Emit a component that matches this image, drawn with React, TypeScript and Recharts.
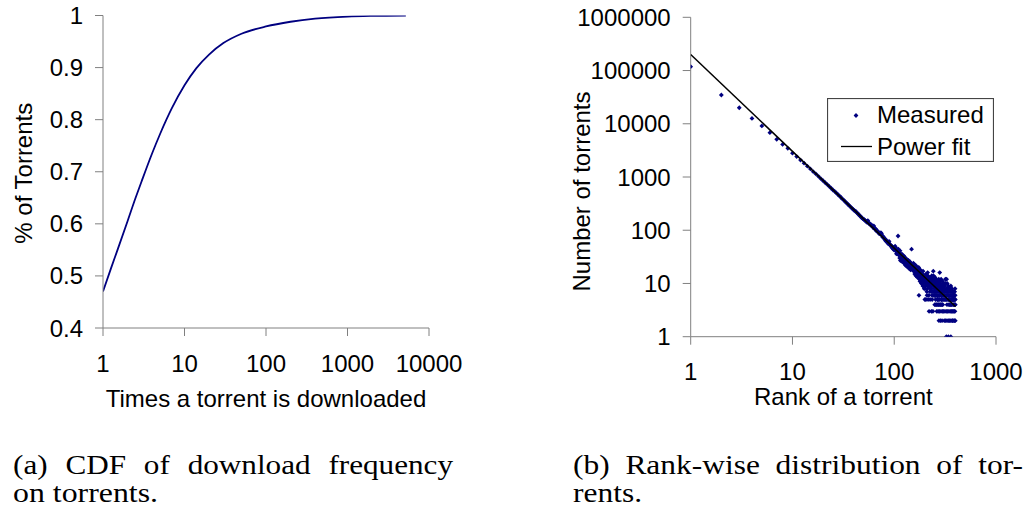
import React from "react";
import {
  ComposedChart,
  ScatterChart,
  Line,
  Scatter,
  XAxis,
  YAxis,
  Label,
  Legend,
} from "recharts";

const FONT = '"Liberation Sans", Arial, Helvetica, sans-serif';
const SERIF = '"Liberation Serif", "Times New Roman", serif';
const NAVY = "#000080";
const AXIS = "#808080";

// (a) CDF of download frequency
const cdfTimes = [1, 1.25, 1.5, 2, 2.5, 3, 4, 5, 7, 10, 14, 20, 30, 50, 100, 200, 400, 1000, 2000, 5200];
const cdfShare = [0.47, 0.514, 0.549, 0.605, 0.649, 0.683, 0.735, 0.772, 0.822, 0.866, 0.899, 0.925, 0.947, 0.965, 0.979, 0.988, 0.994, 0.998, 0.9993, 1.0];
const cdfXTicks = [1, 10, 100, 1000, 10000];
const cdfYTicks = [0.4, 0.5, 0.6, 0.7, 0.8, 0.9, 1];

// (b) rank-wise distribution
const measuredRank = [
  1, 2, 3, 4, 5, 6, 7, 8, 9, 10, 11, 12, 13, 14, 15, 16, 17, 18, 19, 20,
  21, 22, 23, 24, 25, 26, 27, 28, 29, 30, 31, 32, 33, 34, 35, 36, 37, 38, 39, 40,
  41, 42, 43, 44, 45, 46, 47, 48, 49, 50,
  52, 54, 55, 56, 58, 60, 61, 62, 63, 64, 66, 67, 68, 70, 71, 72, 73, 74, 75, 76,
  77, 78, 80, 81, 82, 83, 84, 86, 87, 88, 89, 90, 91, 92, 94, 95, 96, 97, 98, 99, 100,
  102, 103, 104, 105, 106, 107, 108, 109, 110, 111, 112, 113, 114, 115, 116, 117, 118, 119, 120,
  121, 122, 123, 124, 125, 126, 127, 128, 129, 130, 131, 132, 133, 134, 135, 136, 137, 138, 139, 140,
  141, 142, 143, 144, 145, 146, 147, 148, 149, 150,
  152, 154, 155, 156, 158, 159, 160, 162, 163, 164, 166, 168, 169, 170, 172, 174, 175, 176, 178, 179,
  180, 182, 184, 185, 186, 188, 190, 191, 192, 194, 196, 197, 198, 200, 200,
  202, 204, 205, 206, 208, 210, 210, 212, 214, 215, 216, 218, 220, 220, 222, 224, 225, 226, 228, 230,
  232, 232, 234, 236, 236, 238, 240, 240, 242, 244, 245, 246, 248, 250,
  252, 254, 255, 256, 258, 260, 260, 262, 262, 264, 265, 266, 268, 268, 270, 270, 272, 272, 274, 275,
  276, 278, 278, 280, 282, 282, 284, 285, 286, 288, 288, 290, 290, 292, 292, 294, 295, 296, 298, 298, 300,
  302, 305, 308, 310, 312, 315, 318, 320, 322, 325, 327, 328, 330, 332, 335, 338, 340, 342, 345, 348,
  350, 352, 355, 358, 360, 362, 365, 368, 370, 372, 375, 378, 380, 382, 385, 388, 390, 392, 395, 397,
  305, 310, 315, 320, 325, 325, 330, 335, 340, 340, 345, 350, 355, 360, 360, 365, 370, 372, 375, 380,
  385, 388, 392, 395, 398, 398, 385, 375, 362, 348, 398,
  51, 53, 57, 59, 65, 69, 79, 85, 93,
  153, 157, 161, 165, 167, 171, 173, 177, 181, 183, 187, 189, 193, 195, 199,
  201, 203, 207, 209, 211, 213, 217, 219, 221, 223, 227, 229, 231, 233, 235, 237, 239, 241, 243, 247, 249,
  251, 253, 257, 259, 261, 263, 267, 269, 271, 273, 277, 279, 281, 283, 287, 289, 291, 293, 297, 299,
  303, 307, 311, 313, 317, 319, 323, 326, 331, 333, 337, 339, 343, 347, 351, 353, 357, 361, 363, 367,
  371, 374, 377, 381, 384, 387, 391, 394, 396,
  250, 256, 266, 276, 286, 296, 248, 258, 280, 300,
];
const measuredCount = [
  118000, 34700, 20000, 12600, 9100, 6800, 5100, 4100, 3450, 2800, 2420, 2080, 1820, 1600, 1420, 1260, 1140, 1030, 930, 850,
  780, 720, 665, 615, 570, 535, 500, 468, 440, 412, 388, 365, 345, 326, 308, 292, 278, 264, 252, 240,
  232, 225, 212, 204, 196, 186, 179, 172, 165, 160,
  150, 141, 152, 134, 128, 126, 118, 112, 120, 106, 104, 96, 98, 92, 86, 88, 84, 90, 86, 80,
  74, 76, 70, 66, 68, 62, 64, 60, 56, 58, 62, 55, 52, 53, 50, 47, 49, 45, 47, 43, 46,
  50, 41, 42, 36, 45, 38, 40, 78, 44, 34, 38, 30, 41, 27, 36, 32, 34, 26, 35,
  29, 30, 25, 33, 24, 28, 31, 26, 22, 27, 25, 29, 21, 25, 23, 24, 20, 27, 22, 23,
  19, 26, 21, 21, 18, 24, 20, 44, 19, 22,
  20, 24, 17, 18, 21, 15, 17, 22, 14, 19, 15, 18, 13, 16, 14, 20, 6, 13, 17, 11,
  15, 12, 16, 10, 14, 11, 13, 9, 17, 12, 10, 8, 14, 11, 5,
  13, 9, 5, 15, 10, 12, 6, 8, 14, 5, 11, 9, 13, 3, 10, 7, 5, 12, 9, 11,
  8, 3, 14, 10, 5, 7, 12, 3, 17, 9, 6, 11, 8, 10,
  13, 7, 5, 9, 12, 8, 4, 10, 3, 6, 5, 11, 8, 5, 9, 3, 7, 4, 12, 2,
  6, 9, 3, 16, 8, 4, 7, 2, 10, 6, 3, 8, 5, 5, 4, 9, 2, 7, 11, 3, 6,
  8, 5, 10, 7, 6, 9, 12, 5, 7, 8, 12, 6, 4, 10, 7, 5, 9, 6, 4, 8,
  6, 5, 7, 4, 9, 5, 6, 4, 8, 5, 6, 4, 7, 5, 6, 4, 5, 7, 4, 6,
  3, 2, 3, 2, 1, 3, 2, 3, 1, 2, 3, 2, 3, 1, 2, 3, 2, 3, 2, 3,
  2, 3, 2, 3, 2, 4, 4, 5, 4, 4, 5,
  158, 146, 136, 124, 108, 94, 72, 61, 51,
  19, 23, 16, 21, 14, 19, 15, 12, 18, 14, 10, 15, 9, 14, 12,
  8, 11, 13, 7, 10, 16, 12, 6, 9, 11, 8, 13, 7, 10, 6, 12, 9, 7, 14, 6, 9,
  7, 10, 6, 11, 7, 9, 6, 10, 8, 5, 7, 11, 6, 9, 7, 12, 6, 8, 5, 9,
  7, 6, 8, 5, 7, 10, 6, 5, 7, 8, 6, 5, 7, 5, 8, 6, 5, 7, 6, 5,
  6, 7, 5, 6, 5, 7, 6, 5, 8,
  4, 4, 4, 4, 4, 4, 6, 6, 5, 4,
];
const fitRank = [1, 400];
const fitCount = [200000, 3.7];
const rankXTicks = [1, 10, 100, 1000];
const rankYTicks = [1, 10, 100, 1000, 10000, 100000, 1000000];

const cdfData = cdfTimes.map((x, i) => ({ x, y: cdfShare[i] }));
const measuredData = measuredRank.map((x, i) => ({ x, y: measuredCount[i] }));
const fitData = fitRank.map((x, i) => ({ x, y: fitCount[i] }));

const tickStyle = { fill: "#000", fontSize: 24, fontFamily: FONT };

// small Excel-style diamond marker
const Diamond = (props: any) => {
  const { cx, cy } = props;
  if (cx == null || cy == null) return <g />;
  const r = 2.4;
  return <path d={`M${cx},${cy - r}L${cx + r},${cy}L${cx},${cy + r}L${cx - r},${cy}Z`} fill={NAVY} />;
};

const bottomTitle = (text: string, offset: number) => (props: any) => {
  const vb = props.viewBox || {};
  return (
    <text x={vb.x + vb.width / 2} y={vb.y + vb.height - offset} textAnchor="middle" fill="#000" fontSize={24} fontFamily={FONT}>
      {text}
    </text>
  );
};

const sideTitle = (text: string, dx: number, dy: number) => (props: any) => {
  const vb = props.viewBox || {};
  const tx = vb.x + dx;
  const ty = vb.y + vb.height / 2 + dy;
  return (
    <text transform={`translate(${tx},${ty}) rotate(-90)`} textAnchor="middle" fill="#000" fontSize={24} fontFamily={FONT}>
      {text}
    </text>
  );
};

const RankLegend = () => (
  <svg width={167} height={64} style={{ display: "block" }}>
    <rect x={0.5} y={0.5} width={166} height={63} fill="#fff" stroke="#444" strokeWidth={1.2} />
    <Diamond cx={29} cy={17.5} />
    <text x={50} y={25} fill="#000" fontSize={24} fontFamily={FONT}>Measured</text>
    <line x1={14} x2={45} y1={48.5} y2={48.5} stroke="#000" strokeWidth={1.3} />
    <text x={50} y={56.5} fill="#000" fontSize={24} fontFamily={FONT}>Power fit</text>
  </svg>
);

export default function App() {
  return (
    <div style={{ position: "absolute", left: 0, top: 0, width: 1026, height: 513, background: "#fff" }}>
      <div style={{ position: "absolute", left: 0, top: 0 }}>
        <ComposedChart width={480} height={420} data={cdfData} margin={{ top: 15.5, right: 51, bottom: 12, left: 13 }}>
          <XAxis
            dataKey="x"
            type="number"
            scale="log"
            domain={[1, 10000]}
            ticks={cdfXTicks}
            allowDataOverflow
            height={80}
            tickSize={8}
            tickMargin={19}
            stroke={AXIS}
            tick={tickStyle}
            tickFormatter={(v: number) => String(v)}
          >
            <Label content={bottomTitle("Times a torrent is downloaded", 1)} />
          </XAxis>
          <YAxis
            type="number"
            domain={[0.4, 1]}
            ticks={cdfYTicks}
            allowDataOverflow
            width={90}
            tickSize={8}
            tickMargin={12}
            stroke={AXIS}
            tick={tickStyle}
            tickFormatter={(v: number) => (v === 1 ? "1" : v.toFixed(1))}
          >
            <Label content={sideTitle("% of Torrents", 18.7, 1.5)} />
          </YAxis>
          <Line dataKey="y" type="monotone" stroke={NAVY} strokeWidth={1.8} dot={false} isAnimationActive={false} />
        </ComposedChart>
      </div>

      <div style={{ position: "absolute", left: 540, top: 0 }}>
        <ScatterChart width={486} height={420} margin={{ top: 17.3, right: 30, bottom: 12, left: 10 }}>
          <XAxis
            dataKey="x"
            type="number"
            scale="log"
            domain={[1, 1000]}
            ticks={rankXTicks}
            allowDataOverflow
            height={71.3}
            tickSize={8}
            tickMargin={18}
            stroke={AXIS}
            tick={tickStyle}
            tickFormatter={(v: number) => String(v)}
          >
            <Label content={bottomTitle("Rank of a torrent", 3)} />
          </XAxis>
          <YAxis
            dataKey="y"
            type="number"
            scale="log"
            domain={[1, 1000000]}
            ticks={rankYTicks}
            allowDataOverflow
            width={140.7}
            tickSize={8}
            tickMargin={12}
            stroke={AXIS}
            tick={tickStyle}
            tickFormatter={(v: number) => String(v)}
          >
            <Label content={sideTitle("Number of torrents", 40, 14.5)} />
          </YAxis>
          <Scatter name="Measured" data={measuredData} shape={Diamond} isAnimationActive={false} />
          <Scatter
            name="Power fit"
            data={fitData}
            line={{ stroke: "#000", strokeWidth: 1.5 }}
            shape={() => <g />}
            isAnimationActive={false}
          />
          <Legend
            layout="horizontal"
            verticalAlign="middle"
            align="center"
            content={RankLegend}
            wrapperStyle={{ left: 287, top: 98, width: 167, height: 64 }}
          />
        </ScatterChart>
      </div>

      <svg width={1026} height={513} style={{ position: "absolute", left: 0, top: 0, pointerEvents: "none" }}>
        <g fill="#000" fontSize={28} fontFamily={SERIF}>
          <text x={13} y={474} textLength={440} lengthAdjust="spacingAndGlyphs" style={{ wordSpacing: 9 }}>
            (a) CDF of download frequency
          </text>
          <text x={13} y={502} textLength={145} lengthAdjust="spacingAndGlyphs">
            on torrents.
          </text>
          <text x={573} y={474} textLength={450} lengthAdjust="spacingAndGlyphs" style={{ wordSpacing: 7 }}>
            (b) Rank-wise distribution of tor-
          </text>
          <text x={573} y={502} textLength={69} lengthAdjust="spacingAndGlyphs">
            rents.
          </text>
        </g>
      </svg>
    </div>
  );
}
